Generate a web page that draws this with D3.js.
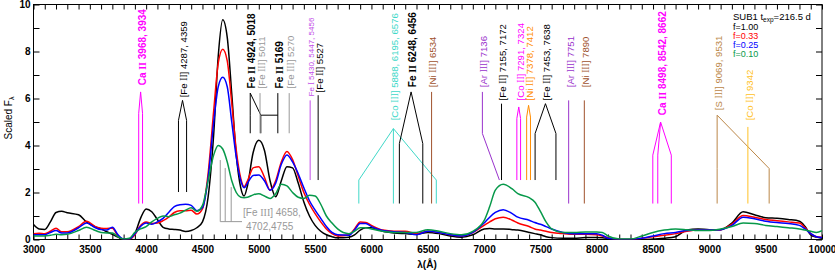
<!DOCTYPE html>
<html>
<head>
<meta charset="utf-8">
<script src="https://cdn.jsdelivr.net/npm/d3@7"></script>
<style>
body { margin: 0; background: #fff; }
text { font-family: "Liberation Sans", Arial, Helvetica, sans-serif; }
</style>
</head>
<body>
<div id="chart"></div>
<script>
// wavelength grid (Angstrom)
var waves = [3000,3050,3100,3150,3200,3250,3300,3400,3470,3550,
  3600,3650,3700,3750,3800,3850,3900,3950,4000,4050,
  4100,4150,4200,4250,4300,4350,4400,4450,4500,4550,
  4600,4640,4680,4720,4760,4800,4840,4870,4900,4950,
  5000,5050,5100,5150,5200,5250,5300,5350,5400,5450,
  5500,5550,5600,5650,5700,5800,5850,5900,5950,6000,
  6100,6200,6300,6400,6500,6600,6700,6800,6900,7000,
  7050,7100,7170,7250,7300,7400,7450,7500,7550,7600,
  7700,7800,7900,8000,8050,8100,8200,8300,8400,8500,
  8600,8700,8800,8900,9000,9100,9200,9300,9400,9500,
  9600,9700,9800,9850,9900,9950,10000]

var fluxF100 = [0.64,0.45,0.43,0.75,1.15,1.2,1.14,1.05,0.75,0.53,
  0.45,0.33,0.22,0.1,0.0,0.02,0.25,0.9,1.3,1.18,
  0.85,0.52,0.45,0.43,0.4,0.34,0.38,0.5,0.75,1.8,
  4.5,7.8,9.35,8.6,6.2,3.6,2.2,1.85,2.3,3.7,
  4.22,3.8,2.5,1.82,2.5,3.1,3.05,2.4,1.6,1.0,
  0.6,0.35,0.2,0.12,0.07,0.1,0.2,0.4,0.5,0.5,
  0.35,0.28,0.25,0.22,0.3,0.25,0.15,0.1,0.2,0.45,
  0.47,0.45,0.45,0.42,0.4,0.3,0.25,0.2,0.12,0.08,
  0.05,0.05,0.08,0.08,0.07,0.05,0.0,0.0,0.0,0.02,
  0.05,0.12,0.4,0.45,0.42,0.42,0.7,1.18,1.05,0.93,
  0.9,0.85,0.78,0.55,0.2,0.1,0.05]

var fluxF033 = [0.25,0.27,0.25,0.35,0.48,0.33,0.33,0.55,0.78,0.55,
  0.48,0.47,0.48,0.15,0.02,0.02,0.2,0.6,0.75,0.68,
  0.7,0.8,0.95,1.15,1.22,1.22,1.25,1.08,1.3,2.8,
  5.5,7.5,8.1,7.6,5.8,3.8,2.6,2.25,2.5,3.05,
  3.1,2.65,2.1,2.5,3.3,3.75,3.4,2.7,2.0,1.5,
  1.1,0.75,0.45,0.25,0.15,0.2,0.45,0.75,0.72,0.6,
  0.4,0.35,0.35,0.25,0.35,0.3,0.2,0.15,0.3,0.6,
  0.75,0.88,0.95,0.82,0.7,0.55,0.45,0.4,0.35,0.3,
  0.25,0.22,0.22,0.2,0.15,0.08,0.0,0.0,0.05,0.12,
  0.18,0.25,0.35,0.4,0.4,0.42,0.65,1.02,0.95,0.85,
  0.8,0.75,0.7,0.5,0.25,0.12,0.1]

var fluxF025 = [0.2,0.2,0.2,0.3,0.38,0.28,0.28,0.5,0.7,0.5,
  0.42,0.4,0.52,0.2,0.02,0.02,0.25,0.55,0.7,0.65,
  0.75,0.9,1.15,1.4,1.48,1.5,1.45,1.22,1.35,2.6,
  5.0,6.5,6.9,6.5,5.0,3.5,2.5,2.2,2.4,2.72,
  2.75,2.5,2.1,2.4,3.2,3.6,3.3,2.8,2.2,1.65,
  1.25,0.9,0.55,0.3,0.2,0.18,0.4,0.68,0.68,0.55,
  0.38,0.33,0.3,0.2,0.35,0.3,0.2,0.15,0.3,0.7,
  0.95,1.15,1.27,1.1,0.95,0.82,0.72,0.65,0.55,0.45,
  0.3,0.25,0.25,0.25,0.18,0.05,0.0,0.0,0.05,0.15,
  0.25,0.3,0.38,0.4,0.4,0.42,0.6,0.95,0.88,0.78,
  0.72,0.68,0.6,0.45,0.25,0.12,0.08]

var fluxF010 = [0.15,0.15,0.15,0.18,0.22,0.2,0.22,0.38,0.52,0.38,
  0.3,0.28,0.28,0.12,0.02,0.05,0.3,0.45,0.55,0.75,
  0.9,1.0,0.97,1.05,1.12,1.25,1.35,1.2,1.45,2.5,
  3.6,4.0,3.85,3.3,2.5,2.0,1.8,1.78,1.8,1.9,
  1.95,1.85,1.75,1.95,2.35,2.28,2.0,1.8,1.75,1.88,
  1.85,1.5,1.0,0.7,0.45,0.25,0.35,0.5,0.5,0.45,
  0.35,0.3,0.3,0.3,0.42,0.35,0.25,0.2,0.35,0.8,
  1.4,2.1,2.35,2.15,1.95,1.78,1.6,1.2,0.75,0.45,
  0.3,0.3,0.32,0.32,0.3,0.15,0.02,0.02,0.15,0.3,
  0.4,0.45,0.42,0.38,0.38,0.45,0.55,0.7,0.68,0.6,
  0.55,0.5,0.45,0.4,0.35,0.3,0.38]

var seriesNames = ["f=1.00", "f=0.33", "f=0.25", "f=0.10"]
var seriesFlux = [fluxF100, fluxF033, fluxF025, fluxF010]
var seriesColors = ["#000000", "#ff0000", "#0000ff", "#07994a"]

var xTicks = d3.range(3000, 10001, 100)
var yTicks = d3.range(0, 11, 1)

// line identifications, heights in flux units
var lineIds = [
  {label: "Ca II 3968, 3934", ion: "Ca II", waves: [3934, 3968], apex: 3951, top: 6.28, split: 5.37, bot: 1.53, base: 6.56, bold: true},
  {label: "[Fe II] 4287, 4359", ion: "[Fe II]", waves: [4287, 4359], apex: 4323, top: 5.92, split: 5.07, bot: 2.02, base: 6.05},
  {label: "Fe II 4924, 5018", ion: "Fe II", waves: [4924, 5018], apex: 4924, top: 6.23, split: 5.29, bot: 4.52, base: 6.43, bold: true, bridge: 5169},
  {label: "[Fe III] 5011", ion: "[Fe III]", waves: [5011], apex: 5011, top: 6.23, bot: 4.52, base: 6.43},
  {label: "Fe II 5169", ion: "Fe II", waves: [5169], apex: 5169, top: 6.23, bot: 4.52, base: 6.43, bold: true},
  {label: "[Fe III] 5270", ion: "[Fe III]", waves: [5270], apex: 5270, top: 6.23, bot: 4.52, base: 6.43},
  {label: "Fe I 5430, 5447, 5456", ion: "Fe I", waves: [5456], apex: 5456, top: 5.92, bot: 2.53, base: 6.09, small: true},
  {label: "[Fe II] 5527", ion: "[Fe II]", waves: [5527], apex: 5527, top: 6.14, bot: 2.53, base: 6.26},
  {label: "[Co III] 5888, 6195, 6576", ion: "[Co III]", waves: [5888, 6195, 6576], apex: 6195, top: 4.72, split: 2.53, bot: 1.53, base: 5.07},
  {label: "Fe II 6248, 6456", ion: "Fe II", waves: [6248, 6456], apex: 6352, top: 6.28, split: 4.08, bot: 1.53, base: 6.48, bold: true},
  {label: "[Ni III] 6534", ion: "[Ni III]", waves: [6534], apex: 6534, top: 6.28, bot: 1.53, base: 6.48},
  {label: "[Ar III] 7136", ion: "[Ar III]", waves: [7136], apex: 6985, top: 6.28, knee: 4.51, split: 2.53, bot: 2.53, base: 6.48},
  {label: "[Fe II] 7155, 7172", ion: "[Fe II]", waves: [7155], apex: 7155, top: 5.78, bot: 2.53, base: 5.92},
  {label: "[Co II] 7291, 7324", ion: "[Co II]", waves: [7291, 7324], apex: 7308, top: 5.64, split: 5.15, bot: 2.53, base: 5.92},
  {label: "[Ni II] 7378, 7412", ion: "[Ni II]", waves: [7378, 7412], apex: 7395, top: 5.71, split: 5.21, bot: 2.53, base: 5.92},
  {label: "[Fe II] 7453, 7638", ion: "[Fe II]", waves: [7453, 7638], apex: 7545, top: 5.78, split: 4.51, bot: 2.53, base: 5.92},
  {label: "[Ar III] 7751", ion: "[Ar III]", waves: [7751], apex: 7751, top: 5.92, bot: 1.53, base: 6.48},
  {label: "[Ni III] 7890", ion: "[Ni III]", waves: [7890], apex: 7890, top: 5.92, bot: 1.53, base: 6.48},
  {label: "Ca II 8498, 8542, 8662", ion: "Ca II", waves: [8498, 8542, 8662], apex: 8567, top: 5.0, split: 3.59, bot: 1.53, base: 5.29, bold: true},
  {label: "[S III] 9069, 9531", ion: "[S III]", waves: [9069, 9531], apex: 9069, top: 5.29, split: 3.02, bot: 1.53, base: 5.5},
  {label: "[Co II] 9342", ion: "[Co II] 9342", waves: [9342], apex: 9342, top: 4.79, bot: 1.53, base: 5.07}
]

// [Fe III] blend drawn below the Fe II 4924 peak
var feIIIWaves = [4658, 4702, 4755]
var feIIITops = [3.38, 3.04, 2.23]
var feIIIBottom = 0.76
var feIIIBridge = 4851
var feIIILabel = ["[Fe III] 4658,", "4702,4755"]

var ionColors = {
  "Ca II": "#ff00ff", "[Fe II]": "#000000", "Fe II": "#000000", "[Fe III]": "#999999",
  "Fe I": "#c24de8", "[Co III]": "#40d8c8", "[Ni III]": "#a0522d", "[Ar III]": "#9932cc",
  "[Co II]": "#ff00ff", "[Ni II]": "#ff8c00", "[S III]": "#bb8748", "[Co II] 9342": "#ffc125"
}

var W = 835, H = 271
var svg = d3.select("#chart").append("svg").attr("width", W).attr("height", H)

var x = d3.scaleLinear().domain([3000, 10000]).range([33.5, 822])
var y = d3.scaleLinear().domain([0, 10]).range([239.5, 4.5])

// axes, ticks inward on all four sides
var xAxis = d3.axisBottom(x).tickValues(xTicks).tickSize(-5).tickPadding(6)
    .tickFormat(function (d) { return d % 500 === 0 ? d : "" })
svg.append("g").attr("transform", "translate(0,239.5)").call(xAxis)
   .call(function (g) { g.select(".domain").remove() })
   .selectAll("text").attr("font-size", 10).attr("font-weight", "bold").attr("fill", "#000")

svg.append("g").attr("transform", "translate(0,4.5)")
   .call(d3.axisTop(x).tickValues(xTicks).tickSize(-5).tickFormat(""))
   .call(function (g) { g.select(".domain").remove() })

var yAxis = d3.axisLeft(y).tickValues(yTicks).tickSize(-6).tickPadding(3)
    .tickFormat(function (d) { return d % 2 === 0 ? d : "" })
svg.append("g").attr("transform", "translate(33.5,0)").call(yAxis)
   .call(function (g) { g.select(".domain").remove() })
   .selectAll("text").attr("font-size", 10).attr("font-weight", "bold").attr("fill", "#000")

svg.append("g").attr("transform", "translate(822,0)")
   .call(d3.axisRight(y).tickValues(yTicks).tickSize(-6).tickFormat(""))
   .call(function (g) { g.select(".domain").remove() })

svg.selectAll(".tick line").attr("stroke", "#000")

svg.append("rect")
   .attr("x", 33.5).attr("y", 4.5)
   .attr("width", 822 - 33.5).attr("height", 239.5 - 4.5)
   .attr("fill", "none").attr("stroke", "#000")

// axis titles
var ylab = svg.append("text")
   .attr("transform", "translate(8,118) rotate(-90)")
   .attr("text-anchor", "middle").attr("dy", "0.35em")
   .attr("font-size", 10)
ylab.append("tspan").text("Scaled F")
ylab.append("tspan").attr("font-size", 7).attr("dy", 2).text("λ")

svg.append("text")
   .attr("x", 427).attr("y", 268)
   .attr("text-anchor", "middle")
   .attr("font-size", 10).attr("font-weight", "bold")
   .text("λ(Å)")

// line identification marks
var pathLine = d3.line().x(function (p) { return x(p[0]) }).y(function (p) { return y(p[1]) })

function romanLabel(text, str) {
    str.split(/(\bI{1,3}\b)/).forEach(function (part) {
        if (!part) return
        var t = text.append("tspan").text(part)
        if (/^I{1,3}$/.test(part)) t.attr("font-family", "'Liberation Serif', 'DejaVu Serif', serif")
    })
}

lineIds.forEach(function (d) {
    var col = ionColors[d.ion]
    var g = svg.append("g").attr("stroke", col).attr("fill", "none").attr("stroke-width", 1)
    var split = d.split == null ? d.top : d.split
    d.waves.forEach(function (w) {
        var pts = [[d.apex, d.top]]
        if (d.knee != null) pts.push([d.apex, d.knee])
        pts.push([w, split], [w, d.bot])
        g.append("path").attr("d", pathLine(pts))
    })
    if (d.bridge) {
        g.append("path").attr("d", pathLine([[d.waves[d.waves.length - 1], split], [d.bridge, split]]))
    }
    var t = svg.append("text")
        .attr("transform", "translate(" + (x(d.apex) + 1.5) + "," + y(d.base) + ") rotate(-90)")
        .attr("dy", "0.35em")
        .attr("font-size", d.small ? 8 : (d.bold ? 10 : 9.6))
        .attr("font-weight", d.bold ? "bold" : "normal")
        .attr("fill", col)
    romanLabel(t, d.label)
})

var gFe3 = svg.append("g").attr("stroke", ionColors["[Fe III]"]).attr("fill", "none")
feIIIWaves.forEach(function (w, i) {
    gFe3.append("path").attr("d", pathLine([[w, feIIITops[i]], [w, feIIIBottom]]))
})
gFe3.append("path").attr("d", pathLine([[feIIIWaves[0], feIIIBottom], [feIIIBridge, feIIIBottom]]))
feIIILabel.forEach(function (s, i) {
    var t = svg.append("text")
        .attr("x", x(feIIIBridge) + (i === 0 ? 1 : 4)).attr("y", 216 + i * 13.5)
        .attr("font-size", 10).attr("fill", ionColors["[Fe III]"])
    romanLabel(t, s)
})

// spectra
var clip = svg.append("clipPath").attr("id", "plotclip")
clip.append("rect").attr("x", 33.5).attr("y", 4.5).attr("width", 788.5).attr("height", 235)

var curve = d3.line()
    .x(function (d) { return x(d[0]) })
    .y(function (d) { return y(d[1]) })
    .curve(d3.curveMonotoneX)

seriesFlux.forEach(function (flux, i) {
    svg.append("path")
       .attr("clip-path", "url(#plotclip)")
       .attr("d", curve(waves.map(function (w, j) { return [w, flux[j]] })))
       .attr("fill", "none")
       .attr("stroke", seriesColors[i])
       .attr("stroke-width", 1.5)
})

// legend
var leg = svg.append("text").attr("x", 733).attr("y", 19.5).attr("font-size", 9.5)
leg.append("tspan").text("SUB1 t")
leg.append("tspan").attr("font-size", 6.5).attr("dy", 2).text("exp")
leg.append("tspan").attr("dy", -2).text("=216.5 d")

svg.selectAll(".legend")
   .data(seriesNames)
   .enter().append("text")
   .attr("class", "legend")
   .attr("x", 733)
   .attr("y", function (d, i) { return 29.5 + i * 9.3 })
   .attr("font-size", 9)
   .attr("fill", function (d, i) { return seriesColors[i] })
   .text(function (d) { return d })
</script>
</body>
</html>
